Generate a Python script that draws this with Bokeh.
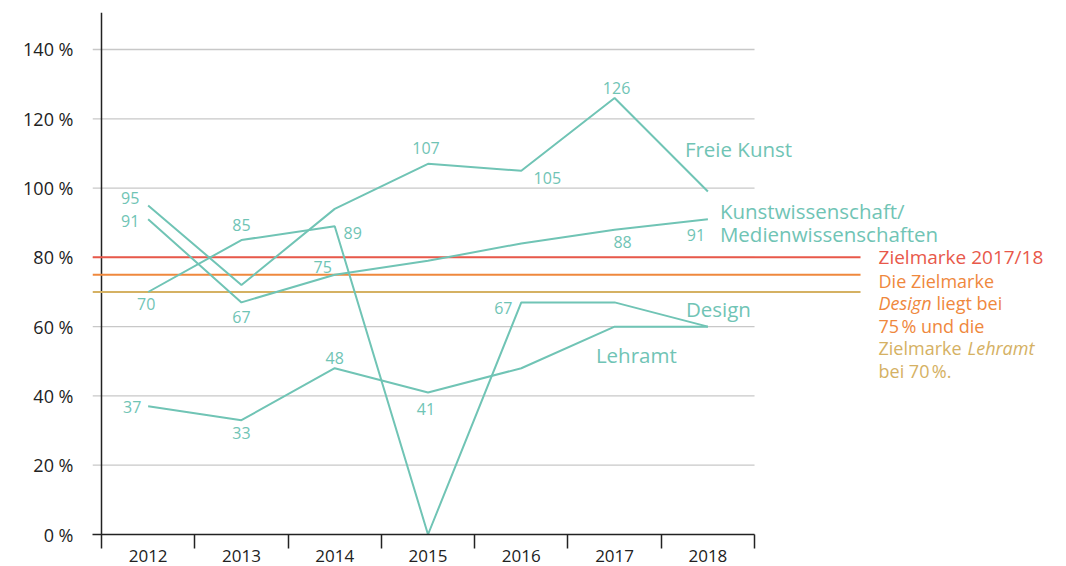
from bokeh.plotting import figure
from bokeh.models import FixedTicker, Range1d
from bokeh.core.properties import value
from bokeh.embed import file_html
from bokeh.resources import INLINE

# ---------------- data ----------------
years = ["2012", "2013", "2014", "2015", "2016", "2017", "2018"]
freie_kunst = [95, 72, 94, 107, 105, 126, 99]
kunstwiss = [91, 67, 75, 79, 84, 88, 91]
design = [70, 85, 89, 0, 67, 67, 60]
lehramt = [37, 33, 48, 41, 48, 60, 60]
targets = [80, 75, 70]                       # Zielmarke 2017/18, Design, Lehramt
y_ticks = [0, 20, 40, 60, 80, 100, 120, 140]
y_tick_labels = ["0 %", "20 %", "40 %", "60 %", "80 %", "100 %", "120 %", "140 %"]

# which points carry value labels, and their pixel offsets (layout only)
fk_lab = {0: (-18, -7), 3: (-2, -16), 4: (26, 7), 5: (2, -10)}
kw_lab = {0: (-18, 2), 1: (0, 15), 2: (-12, -8), 5: (8, 12), 6: (-12, 16)}
de_lab = {0: (-2, 12), 1: (0, -15), 2: (18, 7), 4: (-18, 6)}
le_lab = {0: (-16, 1), 1: (0, 13), 2: (0, -10), 3: (-2, 17)}

TEAL = "#70c4b5"
RED = "#e8584a"
ORANGE = "#ef883d"
TAN = "#d5b163"
GRID = "#c8c8c8"
INK = "#222222"
FONT = "Open Sans"

n = len(years)
xs = [i + 0.5 for i in range(n)]
edges = list(range(n + 1))

W, H = 1060, 566
FL, FR, FT, FB = 92, 1052, 12, 534          # frame edges in pixels
px_per_x = 93.29
px_per_y = 3.4643
x_start = -9 / px_per_x
x_end = x_start + (FR - FL) / px_per_x
y_end = (FB - FT) / px_per_y

p = figure(width=W, height=H, output_backend="svg", toolbar_location=None,
           x_range=Range1d(x_start, x_end), y_range=Range1d(0, y_end),
           min_border_left=FL, min_border_right=W - FR, min_border_top=FT,
           min_border_bottom=H - FB)
p.outline_line_color = None
p.grid.visible = False

# y axis: labels only
ya = p.yaxis[0]
ya.ticker = FixedTicker(ticks=y_ticks)
ya.major_label_overrides = {t: l for t, l in zip(y_ticks, y_tick_labels)}
ya.axis_line_color = None
ya.major_tick_line_color = None
ya.minor_tick_line_color = None
ya.major_label_standoff = 13
ya.major_label_text_font = FONT
ya.major_label_text_font_size = "18px"
ya.major_label_text_color = INK

# x axis
xa = p.xaxis[0]
xa.ticker = FixedTicker(ticks=xs, minor_ticks=edges)
xa.major_label_overrides = {x: y for x, y in zip(xs, years)}
xa.bounds = (x_start, n)
xa.major_tick_out = 0
xa.major_tick_in = 0
xa.minor_tick_out = 14
xa.minor_tick_in = 0
xa.minor_tick_line_color = INK
xa.minor_tick_line_width = 1.5
xa.axis_line_color = INK
xa.axis_line_width = 1.5
xa.major_label_standoff = 1
xa.major_label_text_font = FONT
xa.major_label_text_font_size = "17px"
xa.major_label_text_color = INK

# grid lines (stop at the last year band)
gy = y_ticks[1:]
p.segment(x0=[x_start] * len(gy), x1=[n] * len(gy), y0=gy, y1=gy,
          line_color=GRID, line_width=1.3)

# vertical axis line
p.segment(x0=[0], x1=[0], y0=[0], y1=[y_end], line_color=INK, line_width=1.5)

# target lines
ref_end = n + 106 / px_per_x
for t, c in zip(targets, [RED, ORANGE, TAN]):
    p.segment(x0=[x_start], x1=[ref_end], y0=[t], y1=[t], line_color=c, line_width=2)

# series lines
for vals in [freie_kunst, kunstwiss, design, lehramt]:
    p.line(xs, vals, line_color=TEAL, line_width=2)


def value_labels(vals, lab):
    idx = sorted(lab)
    p.text(x=[xs[i] for i in idx], y=[vals[i] for i in idx],
           text=[str(vals[i]) for i in idx],
           x_offset=[lab[i][0] for i in idx], y_offset=[lab[i][1] for i in idx],
           text_align="center", text_baseline="middle",
           text_font=value(FONT), text_font_size="16px", text_color=TEAL)


value_labels(freie_kunst, fk_lab)
value_labels(kunstwiss, kw_lab)
value_labels(design, de_lab)
value_labels(lehramt, le_lab)


def name_label(txt, vals, dx, dy, color=TEAL, size="20.5px", style="normal", xpos=None):
    yv = vals if isinstance(vals, (int, float)) else vals[-1]
    p.text(x=[xs[-1] if xpos is None else xpos], y=[yv],
           text=[txt], x_offset=[dx], y_offset=[dy],
           text_align="left", text_baseline="middle",
           text_font=value(FONT), text_font_size=size, text_color=color,
           text_font_style=style)


name_label("Freie Kunst", freie_kunst, -23, -43)
name_label("Kunstwissenschaft/", kunstwiss, 12, -8)
name_label("Medienwissenschaften", kunstwiss, 12, 15)
name_label("Design", design, -22, -18)
name_label("Lehramt", lehramt, -112, 28)

# target legend
lx = ref_end
S = "18px"
name_label("Zielmarke 2017/18", targets[0], 18, 0, color=RED, size="19px", xpos=lx)
name_label("Die Zielmarke", targets[1], 18, 6, color=ORANGE, size=S, xpos=lx)
name_label("Design", targets[1], 18, 28.5, color=ORANGE, size=S, style="italic", xpos=lx)
name_label("liegt bei", targets[1], 18 + 58, 28.5, color=ORANGE, size=S, xpos=lx)
name_label("75\u202f% und die", targets[1], 18, 51, color=ORANGE, size=S, xpos=lx)
name_label("Zielmarke", targets[1], 18, 73.5, color=TAN, size=S, xpos=lx)
name_label("Lehramt", targets[1], 18 + 89, 73.5, color=TAN, size=S, style="italic", xpos=lx)
name_label("bei 70\u202f%.", targets[1], 18, 96, color=TAN, size=S, xpos=lx)

open("out.html", "w").write(file_html(p, INLINE))
